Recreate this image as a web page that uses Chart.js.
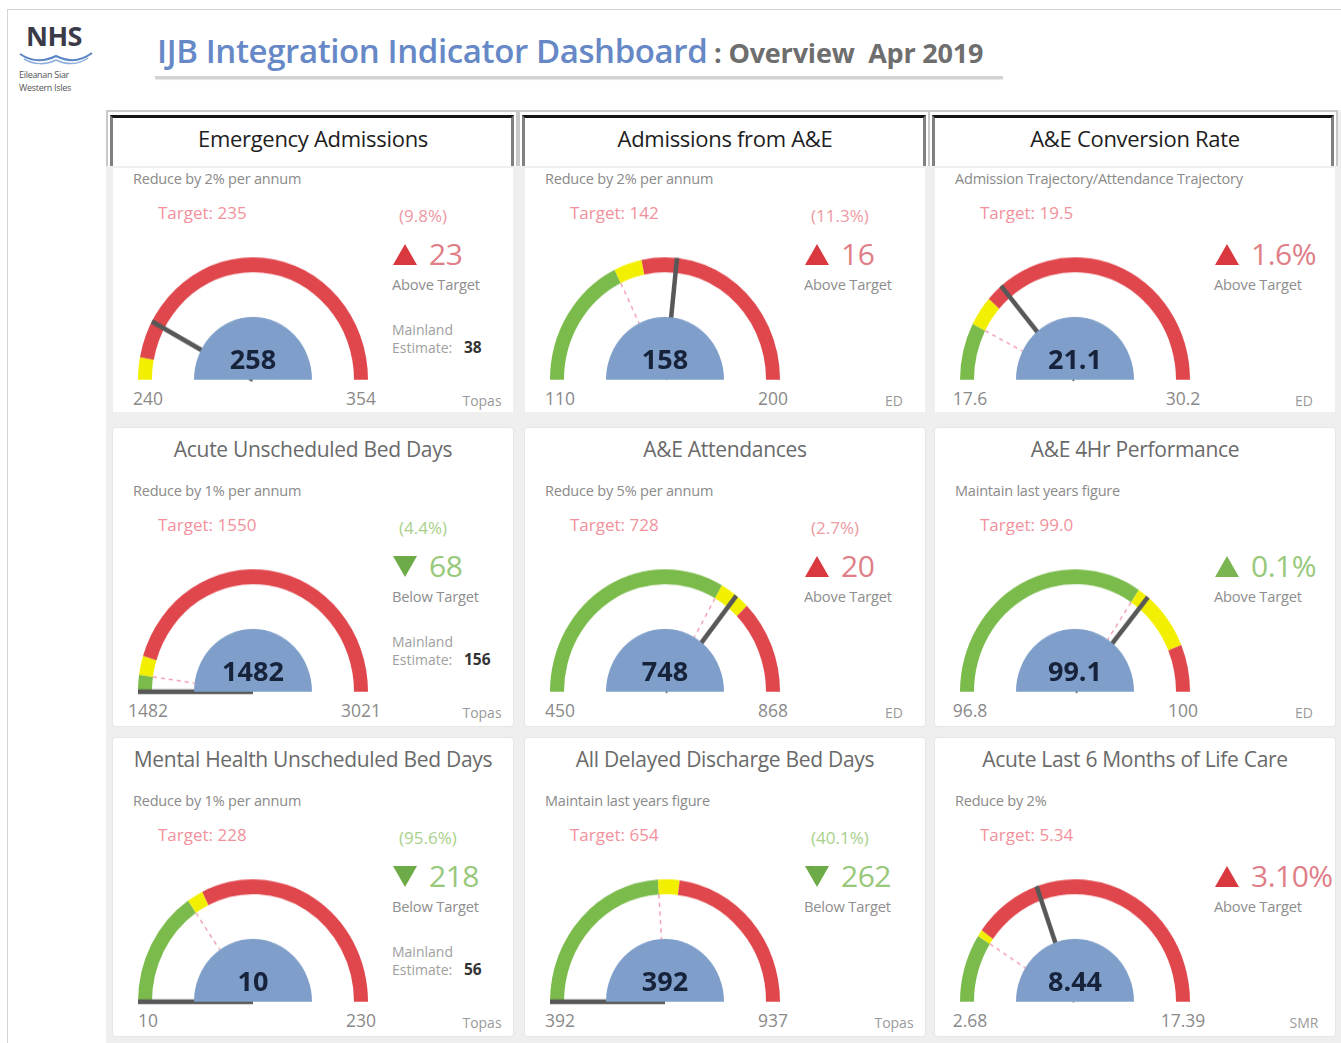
<!DOCTYPE html>
<html>
<head>
<meta charset="utf-8">
<title>IJB Integration Indicator Dashboard</title>
<script src="https://cdn.jsdelivr.net/npm/chart.js@4.4.1/dist/chart.umd.min.js"></script>
<style>
  html, body { margin: 0; padding: 0; background: #fff; }
  body { width: 1341px; height: 1043px; position: relative; overflow: hidden; font-family: "Open Sans", "Noto Sans", sans-serif; }
  .frame { position: absolute; left: 7px; top: 9px; width: 1340px; height: 1040px; border-left: 1px solid #d4d4d4; border-top: 1px solid #d4d4d4; }
  .logo-nhs { position: absolute; left: 26px; top: 17px; font-weight: 700; font-size: 27px; color: #3a3a48; letter-spacing: -0.5px; }
  .logo-sub { position: absolute; left: 19px; font-size: 9px; color: #555; white-space: nowrap; letter-spacing: -0.3px; }
  .head { position: absolute; left: 157px; top: 28px; white-space: nowrap; }
  .head .big { font-size: 33px; font-weight: 600; color: #6688c6; letter-spacing: -0.4px; }
  .head .small { font-size: 27px; font-weight: 700; color: #6e6e6e; letter-spacing: -0.2px; }
  .rule { position: absolute; left: 155px; top: 76px; width: 848px; height: 3px; background: #d2d2d2; box-shadow: 0 1px 1px #e6e6e6; }
  .grid-bg { position: absolute; left: 106px; top: 110px; width: 1235px; height: 933px; background: #efefef; }
  .hdr { position: absolute; height: 56px; border: 2px solid #c9c9c9; border-bottom: none; background: #fff; box-sizing: border-box; }
  .hdr-in { position: absolute; left: 2px; right: 2px; top: 3px; bottom: 0; border-top: 3px solid #151515; border-left: 3px solid #808080; border-right: 3px solid #808080; }
  .card { position: absolute; width: 400px; height: 298px; background: #fff; border-radius: 3px; box-shadow: 0 0 2px rgba(0,0,0,0.12); }
  .card.top { height: 296px; border-radius: 0; box-shadow: none; background: transparent; }
  .card .pane { position: absolute; left: 0; right: 0; top: 52px; bottom: 0; background: #fff; }
  .t { position: absolute; white-space: nowrap; transform: translateY(-50%); line-height: 1.2; }
  .c { transform: translate(-50%, -50%); }
  .ttl { left: 200px; font-size: 21px; color: #6a6a6a; letter-spacing: -0.3px; }
  .top .ttl { color: #1d1d1d; font-size: 22px; letter-spacing: -0.3px; }
  .goal { left: 20px; font-size: 14.5px; color: #8a8a8a; letter-spacing: -0.2px; }
  .tgt { left: 45px; font-size: 17px; color: #f2919b; }
  .pct { left: 286px; font-size: 17px; }
  .var { left: 316px; font-size: 30px; letter-spacing: -0.5px; }
  .stat { left: 279px; font-size: 14.7px; color: #8e8e8e; letter-spacing: -0.2px; }
  .ml { left: 279px; font-size: 14px; color: #a0a0a0; }
  .mlv { left: 351px; font-size: 15.5px; font-weight: 700; color: #333; }
  .lim { font-size: 17.5px; color: #8a8a8a; }
  .src { font-size: 14px; color: #9a9a9a; }
  .val { font-size: 27px; font-weight: 700; color: #17223b; z-index: 3; }
  .tri { position: absolute; width: 0; height: 0; border-left: 12px solid transparent; border-right: 12px solid transparent; }
  .tri.up { border-bottom: 21px solid #d9383f; }
  .tri.down { border-top: 21px solid #6cab47; }
  .tri.up.good { border-bottom-color: #7ab552; }
  canvas { position: absolute; }
</style>
</head>
<body>
<div class="frame"></div>
<div class="logo-nhs">NHS</div>
<svg style="position:absolute;left:18px;top:50px" width="78" height="16">
  <path d="M2 4 C 14 12, 26 12, 38 6 C 50 12, 62 12, 74 3" fill="none" stroke="#5a86c4" stroke-width="2"/>
  <path d="M6 9 C 16 15, 28 15, 38 10 C 48 15, 60 15, 70 8" fill="none" stroke="#8fb0de" stroke-width="1.5"/>
</svg>
<div class="logo-sub" style="top:68px">Eileanan Siar</div>
<div class="logo-sub" style="top:81px">Western Isles</div>
<div class="head"><span class="big">IJB Integration Indicator Dashboard</span><span class="small"> : Overview&nbsp; Apr 2019</span></div>
<div class="rule"></div>
<div class="grid-bg"></div>
<div id="cards"></div>

<script>
// Indicator names and goals
const titles = ['Emergency Admissions', 'Admissions from A&E', 'A&E Conversion Rate',
    'Acute Unscheduled Bed Days', 'A&E Attendances', 'A&E 4Hr Performance',
    'Mental Health Unscheduled Bed Days', 'All Delayed Discharge Bed Days', 'Acute Last 6 Months of Life Care'];
const goals = ['Reduce by 2% per annum', 'Reduce by 2% per annum', 'Admission Trajectory/Attendance Trajectory',
    'Reduce by 1% per annum', 'Reduce by 5% per annum', 'Maintain last years figure',
    'Reduce by 1% per annum', 'Maintain last years figure', 'Reduce by 2%'];

// Gauge values
const targets = [235, 142, 19.5, 1550, 728, 99.0, 228, 654, 5.34];
const targetLabels = ['235', '142', '19.5', '1550', '728', '99.0', '228', '654', '5.34'];
const actuals = [258, 158, 21.1, 1482, 748, 99.1, 10, 392, 8.44];
const actualLabels = ['258', '158', '21.1', '1482', '748', '99.1', '10', '392', '8.44'];
const gaugeMin = [240, 110, 17.6, 1482, 450, 96.8, 10, 392, 2.68];
const gaugeMax = [354, 200, 30.2, 3021, 868, 100, 230, 937, 17.39];
const minLabels = ['240', '110', '17.6', '1482', '450', '96.8', '10', '392', '2.68'];
const maxLabels = ['354', '200', '30.2', '3021', '868', '100', '230', '937', '17.39'];
// colour bands: green up to greenEnd, yellow up to yellowEnd, red to max
const greenEnd = [240, 142, 19.5, 1550, 728, 99.0, 78, 654, 5.34];
const yellowEnd = [246.75, 149.1, 20.5, 1627.5, 764.4, 99.6, 88, 686.7, 5.6];

// Variance panel
const variance = ['23', '16', '1.6%', '68', '20', '0.1%', '218', '262', '3.10%'];
const variancePct = ['(9.8%)', '(11.3%)', '', '(4.4%)', '(2.7%)', '', '(95.6%)', '(40.1%)', ''];
const direction = ['up', 'up', 'up', 'down', 'up', 'up', 'down', 'down', 'up'];
const onTrack = [false, false, false, true, false, true, true, true, false];
const mainland = ['38', '', '', '156', '', '', '56', '', ''];
const sources = ['Topas', 'ED', 'ED', 'Topas', 'ED', 'ED', 'Topas', 'Topas', 'SMR'];

const colLeft = [113, 525, 935];
const rowTop = [116, 428, 738];
const CX = 140, CY = 264, R = 115, BAND = 14, HUB = 59, STRETCH = 1.07;

// Needle, target marker and hub drawn on top of the doughnut
const gaugePlugin = {
    id: 'gauge',
    afterDatasetsDraw(chart, args, opts) {
        const arc = chart.getDatasetMeta(0).data[0];
        if (!arc) return;
        const p = arc.getProps(['x', 'y', 'innerRadius', 'outerRadius'], true);
        const ctx = chart.ctx;
        const ang = v => -Math.PI + Math.PI * (v - opts.min) / (opts.max - opts.min);

        // target marker
        if (opts.marker !== null) {
            const a = ang(opts.marker);
            ctx.save();
            ctx.strokeStyle = '#f3a3b3';
            ctx.lineWidth = 1.5;
            ctx.setLineDash([4, 4]);
            ctx.beginPath();
            ctx.moveTo(p.x + Math.cos(a) * p.innerRadius, p.y + Math.sin(a) * p.innerRadius);
            ctx.lineTo(p.x + Math.cos(a) * HUB, p.y + Math.sin(a) * HUB);
            ctx.stroke();
            ctx.restore();
        }

        // needle
        const n = ang(opts.value);
        ctx.save();
        ctx.strokeStyle = '#585858';
        ctx.lineWidth = 4.5;
        ctx.beginPath();
        ctx.moveTo(p.x, p.y);
        ctx.lineTo(p.x + Math.cos(n) * p.outerRadius, p.y + Math.sin(n) * p.outerRadius);
        ctx.stroke();

        // hub
        ctx.fillStyle = '#7f9fca';
        ctx.beginPath();
        ctx.arc(p.x, p.y, HUB, Math.PI, 2 * Math.PI);
        ctx.closePath();
        ctx.fill();
        ctx.restore();
    }
};

function addText(card, cls, text, left, top, style) {
    const d = document.createElement('div');
    d.className = 't ' + cls;
    d.textContent = text;
    if (left !== null) d.style.left = left + 'px';
    d.style.top = top + 'px';
    if (style) d.style.cssText += style;
    card.appendChild(d);
    return d;
}

const holder = document.getElementById('cards');
titles.forEach((title, i) => {
    const row = Math.floor(i / 3), col = i % 3;
    const left = colLeft[col], top = rowTop[row];

    if (row === 0) {
        const hdr = document.createElement('div');
        hdr.className = 'hdr';
        hdr.style.left = (left - 7) + 'px';
        hdr.style.top = '110px';
        hdr.style.width = (col === 2 ? 410 : 412) + 'px';
        hdr.innerHTML = '<div class="hdr-in"></div>';
        holder.appendChild(hdr);
    }

    const card = document.createElement('div');
    card.className = 'card' + (row === 0 ? ' top' : '');
    card.style.left = left + 'px';
    card.style.top = top + 'px';
    if (row === 0) card.innerHTML = '<div class="pane"></div>';
    holder.appendChild(card);

    addText(card, 'ttl c', title, null, 22);
    addText(card, 'goal', goals[i], null, 63);
    addText(card, 'tgt', 'Target: ' + targetLabels[i], null, 97);

    // gauge canvas, stretched a little vertically like the original
    const H = R + 8;
    const canvas = document.createElement('canvas');
    canvas.width = 2 * R;
    canvas.height = H;
    canvas.style.width = (2 * R) + 'px';
    canvas.style.height = (H * STRETCH) + 'px';
    canvas.style.left = (CX - R) + 'px';
    canvas.style.top = (CY - (R + 4) * STRETCH) + 'px';
    card.appendChild(canvas);

    const lo = gaugeMin[i], hi = gaugeMax[i];
    const g = Math.max(greenEnd[i], lo), y = Math.min(yellowEnd[i], hi);
    new Chart(canvas.getContext('2d'), {
        type: 'doughnut',
        data: {
            labels: ['On target', 'Within 5%', 'Off target'],
            datasets: [{
                data: [g - lo, y - g, hi - y],
                backgroundColor: ['#7bbb4c', '#f2f000', '#e0474d'],
                borderWidth: 0
            }]
        },
        options: {
            responsive: false,
            maintainAspectRatio: false,
            animation: false,
            rotation: -90,
            circumference: 180,
            cutout: ((R - BAND) / R * 100).toFixed(2) + '%',
            layout: { padding: 0 },
            plugins: {
                legend: { display: false },
                tooltip: { enabled: false },
                gauge: {
                    value: actuals[i],
                    marker: targets[i] >= lo ? g : null,
                    min: lo,
                    max: hi
                }
            }
        },
        plugins: [gaugePlugin]
    });

    addText(card, 'val c', actualLabels[i], CX, CY - 21);
    addText(card, 'lim c', minLabels[i], CX - 105, 282);
    addText(card, 'lim c', maxLabels[i], CX + 108, 282);
    addText(card, 'src c', sources[i], 369, 285);

    // variance panel
    const good = onTrack[i];
    const up = direction[i] === 'up';
    if (variancePct[i]) {
        addText(card, 'pct', variancePct[i], null, 100, 'color:' + (good ? '#a9d08c' : '#ee9aa2'));
    }
    const tri = document.createElement('div');
    tri.className = 'tri ' + direction[i] + (good ? ' good' : '');
    tri.style.left = '280px';
    tri.style.top = '128px';
    card.appendChild(tri);
    addText(card, 'var', variance[i], null, 138, 'color:' + (good ? '#98c87a' : '#e07e87'));
    addText(card, 'stat', up ? 'Above Target' : 'Below Target', null, 169);
    if (mainland[i]) {
        addText(card, 'ml', 'Mainland', null, 214);
        addText(card, 'ml', 'Estimate:', null, 232);
        addText(card, 'mlv', mainland[i], null, 231);
    }
});
</script>
</body>
</html>
